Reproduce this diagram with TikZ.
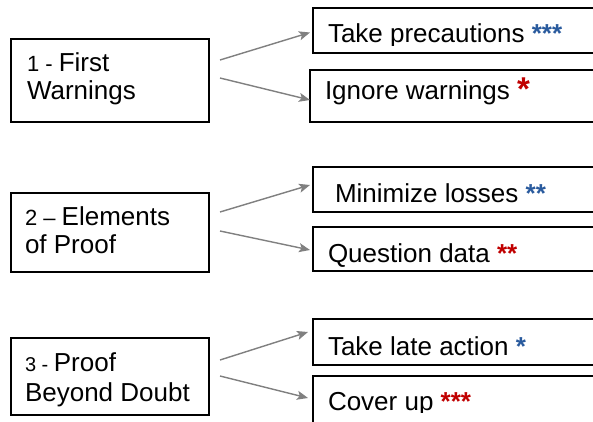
\documentclass[tikz,border=0pt]{standalone}
\usepackage{fontspec}
\setmainfont{Liberation Sans}
\usetikzlibrary{arrows.meta}
\definecolor{starblue}{HTML}{2A5B9E}
\definecolor{starred}{HTML}{C00000}
\definecolor{arrowgray}{HTML}{808080}
\newcommand{\pfx}{\fontsize{22}{26}\selectfont}
\newcommand{\pfxs}{\fontsize{20}{24}\selectfont}
\newcommand{\mystars}[2]{\textcolor{#1}{\bfseries #2}}
\begin{document}
\begin{tikzpicture}[x=1pt,y=-1pt,
  box/.style={draw=black,line width=1.4pt,inner sep=0pt,outer sep=0pt,anchor=north west,minimum width=#1},
  box/.default=198pt,
  lbl/.style={anchor=base west,inner sep=0pt,outer sep=0pt,font=\fontsize{26}{29}\selectfont},
  conn/.style={draw=arrowgray,line width=1.4pt,-{Stealth[length=11pt,width=9pt,inset=2.5pt]}}
]
\clip (0,0) rectangle (593,422);
\fill[white] (0,0) rectangle (593,422);

% left boxes
\node[box,minimum height=83pt] (b1) at (11,39) {};
\node[box,minimum height=79pt] (b2) at (11,193) {};
\node[box,minimum height=77pt] (b3) at (11,338) {};

% right boxes
\node[box=300pt,minimum height=45pt] (r1a) at (313,8) {};
\node[box=300pt,minimum height=52pt] (r1b) at (310,70) {};
\node[box=300pt,minimum height=45pt] (r2a) at (313,167) {};
\node[box=300pt,minimum height=44pt] (r2b) at (313,227) {};
\node[box=300pt,minimum height=46pt] (r3a) at (313,319) {};
\node[box=300pt,minimum height=60pt] (r3b) at (313,376) {};

% left texts
\node[lbl] (t1a) at (27,72) {{\pfx 1 - }First};
\node[lbl] (t1b) at (27,100) {Warnings};
\node[lbl] (t2a) at (25,225) {{\pfx 2 – }Elements};
\node[lbl] (t2b) at (25,253) {of Proof};
\node[lbl] (t3a) at (25,371) {{\pfxs 3 - }Proof};
\node[lbl] (t3b) at (25,401) {Beyond Doubt};

% right texts
\begin{scope}
\clip (313,8) rectangle (593,46);
\node[lbl] (u1a) at (328,43) {Take precautions \mystars{starblue}{***}};
\end{scope}
\node[lbl] (u1b) at (325,100) {Ignore warnings \textcolor{starred}{\fontsize{33}{33}\selectfont\bfseries\raisebox{-1pt}{*}}};
\node[lbl] (u2a) at (335,202) {Minimize losses \mystars{starblue}{**}};
\node[lbl] (u2b) at (328,262) {Question data \mystars{starred}{**}};
\node[lbl] (u3a) at (328,355) {Take late action \mystars{starblue}{*}};
\begin{scope}
\clip (313,376) rectangle (593,412);
\node[lbl] (u3b) at (328,410) {Cover up \mystars{starred}{***}};
\end{scope}

% connectors
\draw[conn] ([shift={(11,-20.5)}]b1.east) -- ([shift={(-3,2)}]r1a.west);
\draw[conn] ([shift={(11,-2.5)}]b1.east) -- ([shift={(0,4)}]r1b.west);
\draw[conn] ([shift={(11,-20.5)}]b2.east) -- ([shift={(-3,-4.5)}]r2a.west);
\draw[conn] ([shift={(11,-1.5)}]b2.east) -- ([shift={(-3,1)}]r2b.west);
\draw[conn] ([shift={(11,-16.5)}]b3.east) -- ([shift={(-5,-10)}]r3a.west);
\draw[conn] ([shift={(11,-0.5)}]b3.east) -- ([shift={(-5,-8)}]r3b.west);
\end{tikzpicture}
\end{document}
